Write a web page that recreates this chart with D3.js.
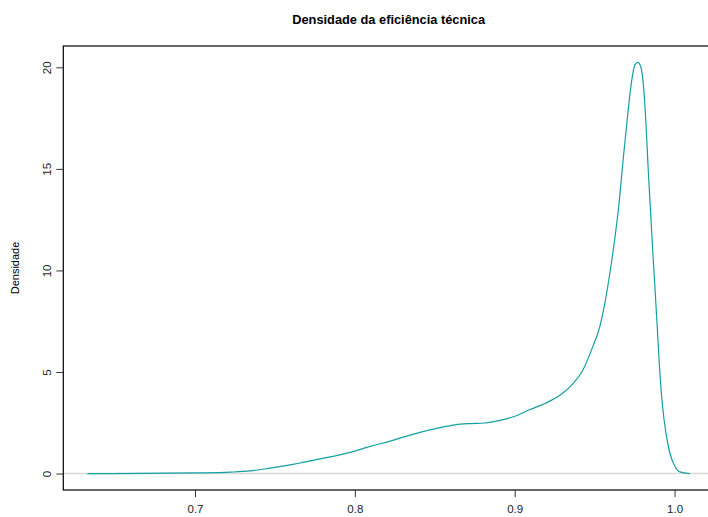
<!DOCTYPE html>
<html>
<head>
<meta charset="utf-8">
<script src="https://cdn.jsdelivr.net/npm/d3@7"></script>
<style>
  html, body { margin: 0; padding: 0; background: #fff; }
  svg { display: block; font-family: "Liberation Sans", Arial, Helvetica, sans-serif; }
</style>
</head>
<body>
<svg id="chart" width="708" height="517"></svg>
<script>
// Kernel density estimate of technical efficiency (x = efficiency, y = density)
const efficiency = [
  0.6327, 0.6658, 0.7002, 0.7221, 0.7346, 0.7471, 0.7596, 0.7658, 0.7783, 0.7846,
  0.7971, 0.8096, 0.8221, 0.8314, 0.8408, 0.8533, 0.8627, 0.8721, 0.8814, 0.8908,
  0.9002, 0.9096, 0.9189, 0.9283, 0.9364, 0.9427, 0.9489, 0.9533, 0.9564, 0.9596,
  0.9630, 0.9650, 0.9679, 0.9710, 0.9731, 0.9752, 0.9769, 0.9788, 0.9804, 0.9821,
  0.9835, 0.9852, 0.9867, 0.9877, 0.9891, 0.9908, 0.9925, 0.9946, 0.9971, 1.0002,
  1.0033, 1.0096
];
const density = [
  0.00, 0.005, 0.03, 0.07, 0.13, 0.27, 0.43, 0.52, 0.72, 0.82,
  1.04, 1.34, 1.60, 1.82, 2.03, 2.26, 2.40, 2.46, 2.49, 2.62,
  2.82, 3.15, 3.45, 3.85, 4.42, 5.10, 6.26, 7.25, 8.40, 9.90,
  11.80, 13.10, 15.50, 17.90, 19.30, 20.12, 20.24, 20.04, 19.22, 17.26,
  15.00, 12.60, 10.50, 9.20, 7.30, 4.96, 3.31, 2.00, 1.00, 0.36,
  0.08, 0.00
];
const xTicks = [0.7, 0.8, 0.9, 1.0];
const yTicks = [0, 5, 10, 15, 20];
const xTickLabels = ["0.7", "0.8", "0.9", "1.0"];
const yTickLabels = ["0", "5", "10", "15", "20"];
const title = "Densidade da eficiência técnica";
const yLabel = "Densidade";

const svg = d3.select("#chart");
const box = { left: 63.3, right: 714, top: 46, bottom: 490 };

// Axis ranges padded by 4% on each side of the data range
function padded(values) {
  const [lo, hi] = d3.extent(values);
  const pad = (hi - lo) * 0.04;
  return [lo - pad, hi + pad];
}

const x = d3.scaleLinear().domain(padded(efficiency)).range([box.left, box.right]);
const y = d3.scaleLinear().domain(padded([0, ...density])).range([box.bottom, box.top]);

const points = efficiency.map((e, i) => [e, density[i]]);

// Zero reference line
svg.append("line")
  .attr("x1", box.left).attr("x2", box.right)
  .attr("y1", y(0)).attr("y2", y(0))
  .attr("stroke", "#d8d8d8").attr("stroke-width", 1.5);

// Density curve
svg.append("path")
  .datum(points)
  .attr("fill", "none")
  .attr("stroke", "#12a0a0")
  .attr("stroke-width", 1.2)
  .attr("d", d3.line()
    .x(d => x(d[0]))
    .y(d => y(d[1]))
    .curve(d3.curveMonotoneX));

// Plot frame
svg.append("rect")
  .attr("x", box.left).attr("y", box.top)
  .attr("width", box.right - box.left).attr("height", box.bottom - box.top)
  .attr("fill", "none").attr("stroke", "#000").attr("stroke-width", 1.2);

// X axis
const xAxis = d3.axisBottom(x).tickValues(xTicks)
  .tickFormat((d, i) => xTickLabels[i]).tickSize(7).tickPadding(8).tickSizeOuter(0);
const gx = svg.append("g").attr("transform", `translate(0,${box.bottom})`).call(xAxis);
gx.select(".domain").remove();
gx.selectAll(".tick line").attr("stroke", "#333");
gx.selectAll(".tick text").attr("font-size", 11.5).attr("fill", "#222")
  .attr("font-family", "Liberation Sans, Arial, sans-serif");

// Y axis with rotated labels
const yAxis = d3.axisLeft(y).tickValues(yTicks)
  .tickFormat((d, i) => yTickLabels[i]).tickSize(7).tickSizeOuter(0);
const gy = svg.append("g").attr("transform", `translate(${box.left},0)`).call(yAxis);
gy.select(".domain").remove();
gy.selectAll(".tick line").attr("stroke", "#333");
gy.selectAll(".tick text")
  .attr("font-size", 11.5).attr("fill", "#222")
  .attr("font-family", "Liberation Sans, Arial, sans-serif")
  .attr("x", null).attr("dy", null)
  .attr("text-anchor", "middle")
  .attr("transform", "translate(-16,0) rotate(-90)")
  .attr("dominant-baseline", "central");

// Title
svg.append("text")
  .attr("x", (box.left + box.right) / 2).attr("y", 24)
  .attr("text-anchor", "middle")
  .attr("font-size", 12.8).attr("font-weight", "bold")
  .text(title);

// Y axis title
svg.append("text")
  .attr("transform", `translate(19,${(box.top + box.bottom) / 2}) rotate(-90)`)
  .attr("text-anchor", "middle")
  .attr("font-size", 11)
  .text(yLabel);
</script>
</body>
</html>
